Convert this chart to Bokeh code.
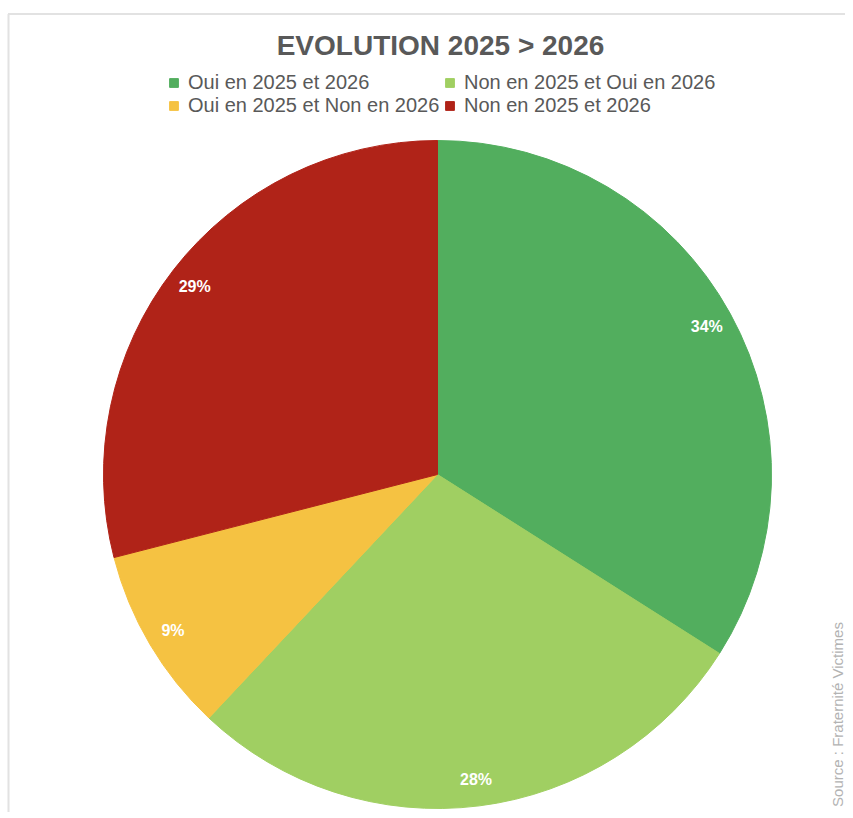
import numpy as np
from bokeh.plotting import figure
from bokeh.models import Range1d, Legend, LegendItem, ColumnDataSource
from bokeh.embed import file_html
from bokeh.resources import INLINE
from bokeh.core.properties import value

# ---- data ----
title_text = "EVOLUTION 2025 > 2026"
categories = ["Oui en 2025 et 2026", "Non en 2025 et Oui en 2026",
              "Oui en 2025 et Non en 2026", "Non en 2025 et 2026"]
shares = [34, 28, 9, 29]
colors = ["#52AE5E", "#A0CF62", "#F5C242", "#B02318"]
source_note = "Source : Fraternité Victimes"

# ---- layout (pixels, 1 data unit = 1 px) ----
W, H = 845, 812
CX, CY, R = 437, H - 474, 334
LABEL_R = 0.92 * R
FONT = "Liberation Sans"

frac = np.array(shares, dtype=float) / sum(shares)
cum_end = np.cumsum(frac)
cum_start = cum_end - frac
start_angle = np.pi / 2 - 2 * np.pi * cum_start
end_angle = np.pi / 2 - 2 * np.pi * cum_end
mid_angle = (start_angle + end_angle) / 2

src = ColumnDataSource(dict(
    cat=categories,
    share=shares,
    color=colors,
    start=start_angle,
    end=end_angle,
    lx=CX + LABEL_R * np.cos(mid_angle),
    ly=CY + LABEL_R * np.sin(mid_angle),
    label=[f"{s}%" for s in shares],
))

p = figure(width=W, height=H, output_backend="svg", toolbar_location=None,
           x_range=Range1d(0, W), y_range=Range1d(0, H),
           x_axis_location=None, y_axis_location=None,
           min_border=0, min_border_left=0, min_border_right=0,
           min_border_top=0, min_border_bottom=0)
p.grid.visible = False
p.outline_line_color = None
p.background_fill_color = "white"
p.border_fill_color = "white"

# frame lines (decoration)
p.segment(x0=[7.5, 8], y0=[H - 13.5, 0], x1=[W, 8], y1=[H - 13.5, H - 13.5],
          line_color="#e2e2e2", line_width=2)

wedges = p.wedge(x=CX, y=CY, radius=R, start_angle="start", end_angle="end",
                 direction="clock", fill_color="color", line_color="color",
                 line_width=1, source=src)

p.text(x="lx", y="ly", text="label", source=src, text_color="white",
       text_font=value(FONT), text_font_style="bold", text_font_size="16px",
       text_align="center", text_baseline="middle")

# title
p.text(x=[440], y=[H - 45], text=[title_text], text_color="#595959",
       text_font=value(FONT), text_font_style="bold", text_font_size="28px",
       text_align="center", text_baseline="middle")

# source note (vertical)
p.text(x=[837], y=[H - 714], text=[source_note], angle=np.pi / 2,
       text_color="#b3b3b3", text_font=value(FONT), text_font_size="15px",
       text_align="center", text_baseline="middle")

items = [LegendItem(label=c, renderers=[wedges], index=i) for i, c in enumerate(categories)]
legend = Legend(items=items, location=(168, H - 117), orientation="horizontal", ncols=2,
                label_text_font=FONT, label_text_font_size="20px",
                label_text_color="#595959", glyph_width=11, glyph_height=11,
                label_standoff=9, spacing=0, padding=0, margin=0,
                label_width=256, label_height=22,
                border_line_color=None, background_fill_alpha=0)
p.add_layout(legend, "center")

open("out.html", "w").write(file_html(p, INLINE))
